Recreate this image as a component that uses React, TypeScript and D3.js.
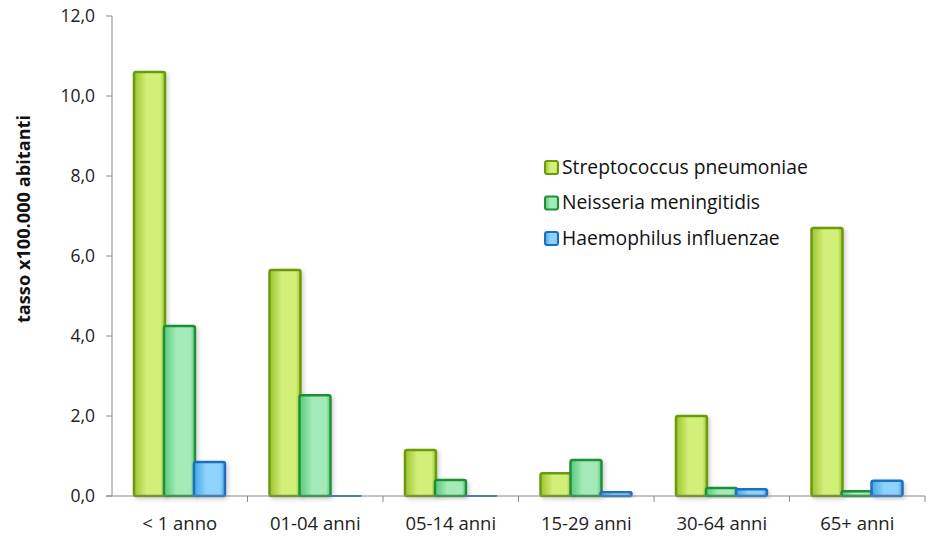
import React from "react";
import * as d3 from "d3";

const categories = ["< 1 anno", "01-04 anni", "05-14 anni", "15-29 anni", "30-64 anni", "65+ anni"];
const seriesNames = ["Streptococcus pneumoniae", "Neisseria meningitidis", "Haemophilus influenzae"];
const strepto = [10.6, 5.65, 1.15, 0.57, 2.0, 6.7];
const neisseria = [4.25, 2.52, 0.4, 0.9, 0.2, 0.12];
const haemo = [0.85, 0.02, 0.02, 0.1, 0.17, 0.38];
const yTicks = [0, 2, 4, 6, 8, 10, 12];

const seriesValues = [strepto, neisseria, haemo];
const styles = [
  { dark: "#9cc52e", light: "#d2ef78", stroke: "#6a9a0e" },
  { dark: "#58c97c", light: "#a4eab8", stroke: "#1f9134" },
  { dark: "#3ea7ea", light: "#8fd2fb", stroke: "#1a6fbd" },
];

const W = 933, H = 536;
const left = 112, right = 925, top = 16, bottom = 496;
const FONT = "'Open Sans', Lato, sans-serif";

export default function App() {
  const x = d3.scaleBand<string>().domain(categories).range([left, right]).paddingInner(0).paddingOuter(0);
  const y = d3.scaleLinear().domain([0, 12]).range([bottom, top]);
  const bw = 31;
  const groupOffset = 22;
  const fmt = (v: number) => d3.format(".1f")(v).replace(".", ",");

  return (
    <svg width={W} height={H} style={{ position: "absolute", left: 0, top: 0, fontFamily: FONT }}>
      <defs>
        {styles.map((s, i) => (
          <linearGradient key={i} id={`g${i}`} x1="0" x2="1" y1="0" y2="0">
            <stop offset="0%" stopColor={s.dark} />
            <stop offset="40%" stopColor={s.light} />
            <stop offset="85%" stopColor={s.light} />
            <stop offset="100%" stopColor={s.dark} />
          </linearGradient>
        ))}
        <filter id="sh" x="-20%" y="-20%" width="150%" height="150%">
          <feDropShadow dx="2" dy="2" stdDeviation="2" floodColor="#000" floodOpacity="0.18" />
        </filter>
      </defs>

      {categories.map((c, ci) =>
        seriesValues.map((vals, si) => {
          const bx = (x(c) as number) + groupOffset + si * (bw - 1);
          const by = y(vals[ci]);
          const h = Math.max(bottom - by, 0.5);
          return (
            <rect key={`${ci}-${si}`} x={bx} y={by} width={bw} height={h} rx={2} fill={`url(#g${si})`} stroke={styles[si].stroke} strokeWidth={2.5} filter="url(#sh)" />
          );
        })
      )}

      <line x1={left} x2={left} y1={top} y2={bottom} stroke="#888" strokeWidth={1} />
      {yTicks.map((t) => (
        <g key={t}>
          <line x1={left - 6} x2={left} y1={y(t)} y2={y(t)} stroke="#888" />
          <text x={95} y={y(t)} dy="0.35em" textAnchor="end" fontSize={17.5} fill="#222">{fmt(t)}</text>
        </g>
      ))}
      <line x1={left - 6} x2={right} y1={bottom} y2={bottom} stroke="#888" strokeWidth={1} />
      {categories.map((c, i) => (
        <g key={c}>
          {i > 0 && <line x1={x(c)} x2={x(c)} y1={bottom} y2={bottom + 6} stroke="#888" />}
          <text x={(x(c) as number) + x.bandwidth() / 2} y={524} dy="0.35em" textAnchor="middle" fontSize={18.5} fill="#222">{c}</text>
        </g>
      ))}
      <line x1={right} x2={right} y1={bottom} y2={bottom + 6} stroke="#888" />

      <text transform={`translate(24, 219) rotate(-90)`} textAnchor="middle" fontSize={18.2} fontWeight="bold" fill="#111" dy="0.35em">tasso x100.000 abitanti</text>

      {seriesNames.map((n, i) => (
        <g key={n} transform={`translate(545, ${167 + i * 35.5})`}>
          <rect x={0} y={-6} width={13} height={13} rx={2} fill={`url(#g${i})`} stroke={styles[i].stroke} strokeWidth={2} />
          <text x={17} y={0} dy="0.35em" fontSize={19.3} fill="#111">{n}</text>
        </g>
      ))}
    </svg>
  );
}
